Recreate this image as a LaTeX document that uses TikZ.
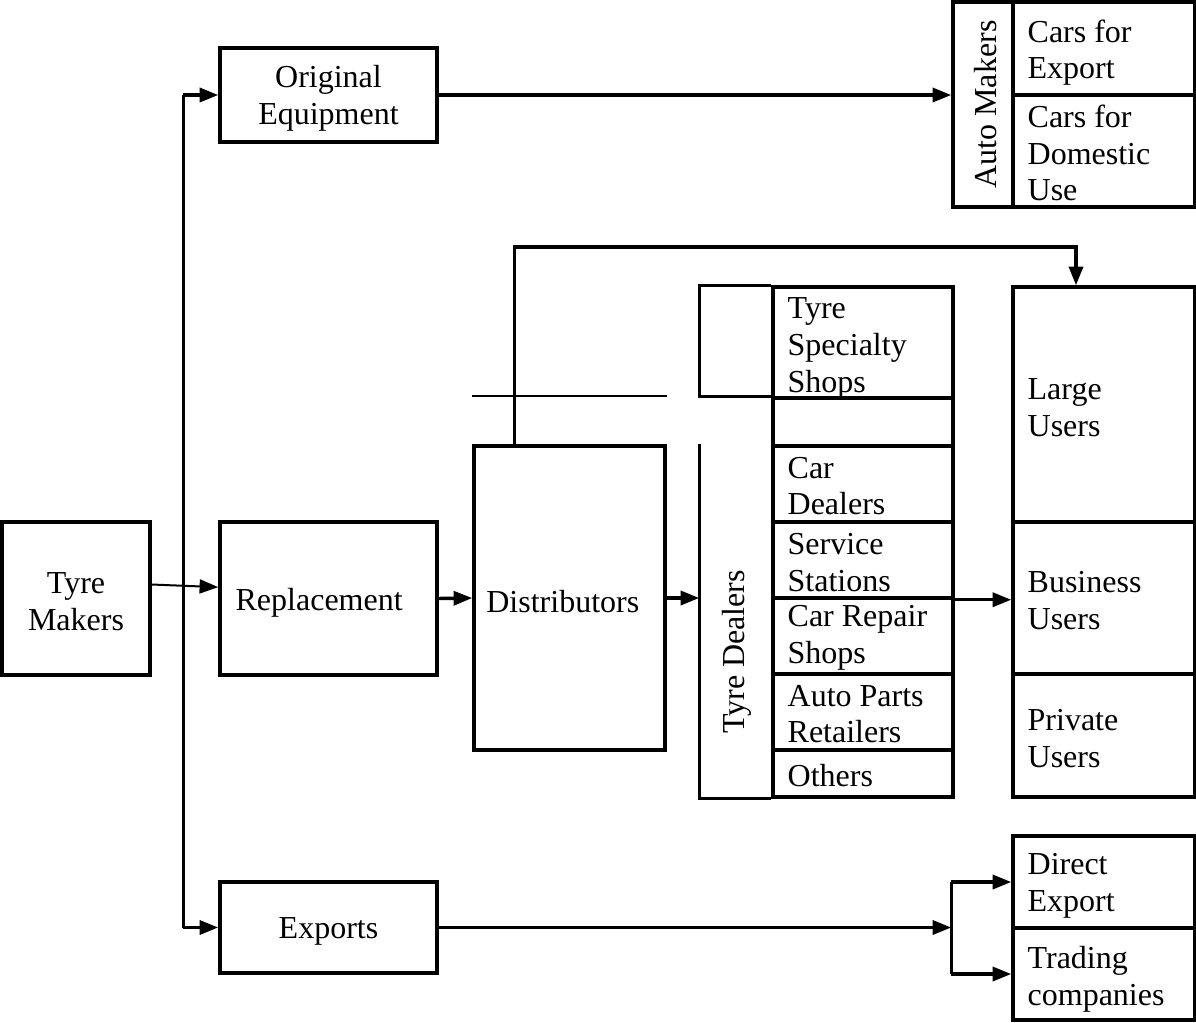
\documentclass[tikz,border=0pt]{standalone}
\usepackage{fontspec}
\setmainfont{Liberation Serif}
\usetikzlibrary{arrows.meta,fit}
\begin{document}
\begin{tikzpicture}[x=0.75pt,y=-0.75pt,line width=2.6pt,
  txt/.style={inner sep=0pt,align=center,font=\fontsize{24}{27.5}\selectfont},
  box/.style={draw,rectangle,inner sep=0pt,txt},
  hid/.style={rectangle,inner sep=0pt},
  lbl/.style={txt,align=left,anchor=west},
  arr/.style={-{Triangle[length=14pt,width=10.5pt]}}]
\useasboundingbox (0,0) rectangle (1196,1022);
% left column
\node (tm) [box,fit={(2,522) (150,675)}] {};
\node (tmt) [txt] at ([yshift=-2.5pt]tm.center) {Tyre\\Makers};
\node (oe) [box,fit={(220,48) (437,142)}] {};
\node (oet) [txt] at ([yshift=-2.5pt]oe.center) {Original\\Equipment};
\node (rp) [box,fit={(220,522) (437,675)}] {};
\node (rpt) [txt] at ([xshift=-7pt,yshift=-3pt]rp.center) {Replacement};
\node (ex) [box,fit={(220,882) (437,973)}] {};
\node (ext) [txt] at ([yshift=-3pt]ex.center) {Exports};
% distributors
\node (di) [box,fit={(474,446) (665,750)}] {};
\node (dit) [txt] at ([xshift=-5pt,yshift=-2.5pt]di.center) {Distributors};
% tyre dealers
\node (td) [hid,fit={(701,287) (773,797)}] {};
\node (c1) [box,fit={(773,287) (953,398)}] {};
\node (c2) [box,fit={(773,398) (953,446)}] {};
\node (c3) [box,fit={(773,446) (953,522)}] {};
\node (c4) [box,fit={(773,522) (953,598)}] {};
\node (c5) [box,fit={(773,598) (953,674)}] {};
\node (c6) [box,fit={(773,674) (953,750)}] {};
\node (c7) [box,fit={(773,750) (953,797)}] {};
\draw (c1.north west) -- (td.north west) -- (td.west |- c2.north) -- (c2.north west);
\draw (td.west |- c3.north) -- (td.south west) -- (c7.south west);
\node (tdt) [txt,rotate=90] at (td.center |- 0,652) {Tyre Dealers};
\node (c1t) [lbl] at ([xshift=11pt,yshift=-4.5pt]c1.west) {Tyre\\Specialty\\Shops};
\node (c3t) [lbl] at ([xshift=11pt,yshift=-1.5pt]c3.west) {Car\\Dealers};
\node (c4t) [lbl] at ([xshift=11pt,yshift=-2pt]c4.west) {Service\\Stations};
\node (c5t) [lbl] at ([xshift=11pt,yshift=-1.5pt]c5.west) {Car Repair\\Shops};
\node (c6t) [lbl] at ([xshift=11pt,yshift=-1.5pt]c6.west) {Auto Parts\\Retailers};
\node (c7t) [lbl] at ([xshift=11pt,yshift=-1.5pt]c7.west) {Others};
% users
\node (lu) [box,fit={(1013,287) (1195,522)}] {};
\node (bu) [box,fit={(1013,522) (1195,674)}] {};
\node (pu) [box,fit={(1013,674) (1195,797)}] {};
\node (lut) [lbl] at ([xshift=11pt,yshift=-2.5pt]lu.west) {Large\\Users};
\node (but) [lbl] at ([xshift=11pt,yshift=-2pt]bu.west) {Business\\Users};
\node (put) [lbl] at ([xshift=11pt,yshift=-2.5pt]pu.west) {Private\\Users};
% auto makers
\node (am) [box,fit={(953,2) (1013,207)}] {};
\node (amt) [txt,rotate=90] at ([xshift=2pt]am.center) {Auto Makers};
\node (ce) [box,fit={(1013,2) (1195,95)}] {};
\node (cd) [box,fit={(1013,95) (1195,207)}] {};
\node (cet) [lbl] at ([xshift=11pt,yshift=-3pt]ce.west) {Cars for\\Export};
\node (cdt) [lbl] at ([xshift=11pt,yshift=-1.5pt]cd.west) {Cars for\\Domestic\\Use};
% exports
\node (de) [box,fit={(1013,836) (1195,928)}] {};
\node (tc) [box,fit={(1013,928) (1195,1020)}] {};
\node (det) [lbl] at ([xshift=11pt,yshift=-3pt]de.west) {Direct\\Export};
\node (tct) [lbl] at ([xshift=11pt,yshift=-4pt]tc.west) {Trading\\companies};
% connectors
\path (oe.west) ++(-35,0) coordinate (tA);
\coordinate (tB) at (ex.west -| tA);
\draw (tA) -- (tB);
\draw[arr] (tA) -- (oe.west);
\draw[arr] (tB) -- (ex.west);
\draw[arr,line width=1.5pt] ([yshift=10.5pt]tm.east) -- ([yshift=8.5pt]rp.west);
\draw[arr] (oe.east) -- (oe.east -| am.west);
\draw[arr] (rp.east) -- (di.west);
\draw[arr] (di.east) -- (di.east -| td.west);
\draw[arr] (c4.south east) -- (c4.south east -| bu.west);
\draw[line width=1.6pt] (di.north west |- c2.north) -- (di.north east |- c2.north);
\path (di.north west) ++(42,0) coordinate (dA);
\path (lu.north) ++(-28,0) coordinate (luA);
\draw[arr] (dA) -- (dA |- 0,247) -| (luA);
\coordinate (sp) at (ex.east -| am.west);
\draw[arr] (ex.east) -- (sp);
\draw (sp |- de.west) -- (sp |- tc.west);
\draw[arr] (sp |- de.west) -- (de.west);
\draw[arr] (sp |- tc.west) -- (tc.west);
\end{tikzpicture}
\end{document}
